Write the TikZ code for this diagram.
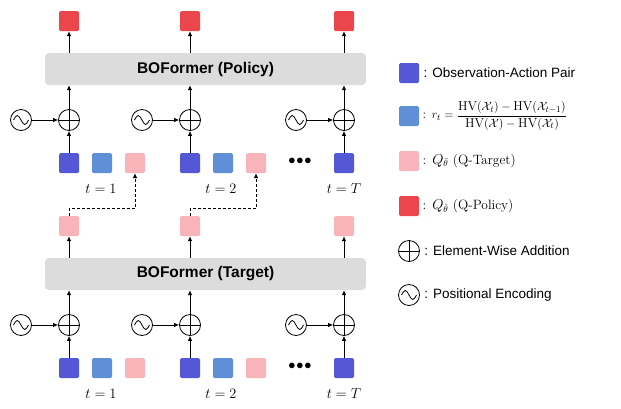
\documentclass[tikz,border=0pt]{standalone}
\usepackage{amsmath, amssymb}
\usepackage{fontspec}
\setsansfont{Liberation Sans}
\usetikzlibrary{calc, positioning, arrows.meta}
\definecolor{obsblue}{HTML}{5558D6}
\definecolor{rewblue}{HTML}{5F8FD6}
\definecolor{tgtpink}{HTML}{F8B4B8}
\definecolor{polred}{HTML}{EB464B}
\definecolor{boxgrey}{HTML}{DCDCDC}
\tikzset{
    sq/.style={rectangle, rounded corners=1.5pt, minimum size=20pt, inner sep=0pt},
    addnode/.style={circle, draw, thick, minimum size=21pt, inner sep=0pt},
    encnode/.style={circle, draw, thick, minimum size=21pt, inner sep=0pt},
    arr/.style={thick, -{Latex[length=5pt,width=4.5pt]}},
}
% plus sign inside an addition node
\newcommand{\addcross}[1]{%
    \draw[thick] (#1.north) -- (#1.south) (#1.west) -- (#1.east);}
% sine wave inside an encoding node
\newcommand{\encwave}[1]{%
    \draw[thick] ($(#1)+(-7.5,0)$) sin ($(#1)+(-3.75,-4.5)$) cos ($(#1)$)
        sin ($(#1)+(3.75,4.5)$) cos ($(#1)+(7.5,0)$);}
\begin{document}
\begin{tikzpicture}[x=1pt, y=-1pt, font=\sffamily\fontsize{13.5}{16}\selectfont]
    \useasboundingbox (0,0) rectangle (621,408);
    % two stages: policy on top, target below
    \foreach \stg/\by/\txt/\outc in {pol/0/Policy/polred, tgt/205/Target/tgtpink} {
        \node[fill=boxgrey, rounded corners=4pt, minimum width=321pt, minimum height=32pt,
              font=\sffamily\bfseries\fontsize{15.5}{18}\selectfont] (box-\stg) at (205.5,69+\by) {BOFormer (\txt)};
        \foreach \col/\cx in {a/69, b/190, c/344} {
            \node[sq, fill=\outc] (out-\stg-\col) at (\cx,21+\by) {};
            \node[addnode] (add-\stg-\col) at (\cx,120+\by) {};
            \addcross{add-\stg-\col}
            \node[encnode] (enc-\stg-\col) at (\cx-48,120+\by) {};
            \encwave{enc-\stg-\col}
            \node[sq, fill=obsblue] (obs-\stg-\col) at (\cx,163+\by) {};
            \draw[arr] (obs-\stg-\col) -- (add-\stg-\col);
            \draw[arr] (enc-\stg-\col) -- (add-\stg-\col);
            \draw[arr] (add-\stg-\col) -- (add-\stg-\col |- box-\stg.south);
            \draw[arr] (out-\stg-\col |- box-\stg.north) -- (out-\stg-\col);
        }
        \foreach \col/\cx in {a/69, b/190} {
            \node[sq, fill=rewblue] (rew-\stg-\col) at (\cx+33,163+\by) {};
            \node[sq, fill=tgtpink] (qt-\stg-\col) at (\cx+66,163+\by) {};
        }
        \node (dots-\stg) at (300,161+\by) {$\bullet\!\bullet\!\bullet$};
        \node (lab-\stg-a) at (101,189+\by) {$t=1$};
        \node (lab-\stg-b) at (221,189+\by) {$t=2$};
        \node (lab-\stg-c) at (344,189+\by) {$t=T$};
    }
    % target values feed the policy inputs
    \draw[arr, densely dashed] (out-tgt-a.north) |- ++(0,-7) -| (qt-pol-a.south);
    \draw[arr, densely dashed] (out-tgt-b.north) |- ++(0,-7) -| (qt-pol-b.south);
    % legend
    \node[sq, fill=obsblue] (leg-obs) at (409,73) {};
    \node[right=1pt of leg-obs] (leg-obs-t) {: Observation-Action Pair};
    \node[sq, fill=rewblue] (leg-rew) at (409,116) {};
    \node[right=0pt of leg-rew, font=\rmfamily\fontsize{13}{16}\selectfont] (leg-rew-t)
        {: $r_t=\dfrac{\mathrm{HV}(\mathcal{X}_t)-\mathrm{HV}(\mathcal{X}_{t-1})}{\mathrm{HV}(\mathcal{X})-\mathrm{HV}(\mathcal{X}_t)}$};
    \node[sq, fill=tgtpink] (leg-tgt) at (409,161) {};
    \node[right=0pt of leg-tgt, font=\rmfamily\fontsize{13.5}{16}\selectfont] (leg-tgt-t) {: $Q_{\bar{\theta}}$ (Q-Target)};
    \node[sq, fill=polred] (leg-pol) at (409,206) {};
    \node[right=0pt of leg-pol, font=\rmfamily\fontsize{13.5}{16}\selectfont] (leg-pol-t) {: $Q_{\hat{\theta}}$ (Q-Policy)};
    \node[addnode] (leg-add) at (409,251) {};
    \addcross{leg-add}
    \node[right=1pt of leg-add] (leg-add-t) {: Element-Wise Addition};
    \node[encnode] (leg-enc) at (409,295) {};
    \encwave{leg-enc}
    \node[right=1pt of leg-enc] (leg-enc-t) {: Positional Encoding};
\end{tikzpicture}
\end{document}
